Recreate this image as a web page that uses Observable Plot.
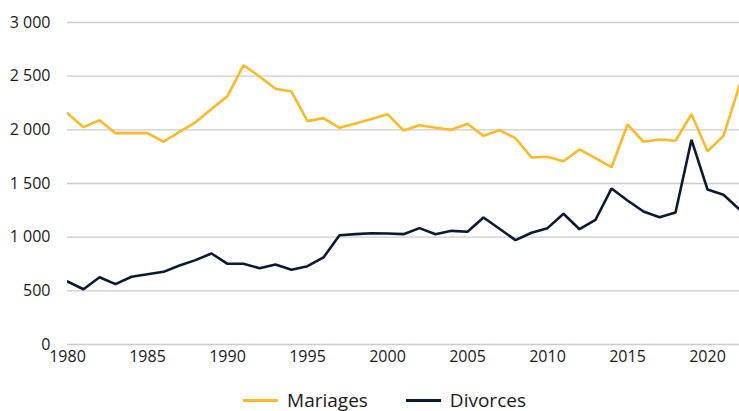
<!DOCTYPE html>
<html>
<head>
<meta charset="utf-8">
<script src="https://cdn.jsdelivr.net/npm/d3@7"></script>
<script src="https://cdn.jsdelivr.net/npm/@observablehq/plot@0.6"></script>
<style>
  body { margin: 0; background: #fff; font-family: "Open Sans", sans-serif; }
  #chart svg { display: block; }
  .legend { display: flex; justify-content: center; gap: 38px; margin-top: 17px; padding-left: 30px; font-size: 19px; color: #1a1a1a; }
  .item { display: flex; align-items: center; gap: 9px; }
  .sw { width: 35px; height: 3px; display: inline-block; }
</style>
</head>
<body>
<div id="chart"></div>
<div class="legend">
  <span class="item"><span class="sw" style="background:#FBBA26"></span>Mariages</span>
  <span class="item"><span class="sw" style="background:#0A1A33"></span>Divorces</span>
</div>
<script>
const years = d3.range(1980, 2023);
const mariages = [2155, 2025, 2090, 1969, 1969, 1969, 1889, 1980, 2070, 2195, 2314, 2602, 2497, 2382, 2357, 2081, 2109, 2019, 2060, 2100, 2146, 1994, 2043, 2020, 2000, 2056, 1944, 1997, 1922, 1742, 1749, 1708, 1817, 1736, 1652, 2050, 1889, 1910, 1898, 2146, 1801, 1944, 2413];
const divorces = [587, 515, 627, 562, 631, 655, 677, 736, 786, 848, 752, 752, 711, 745, 696, 730, 811, 1018, 1028, 1037, 1034, 1028, 1084, 1028, 1059, 1050, 1183, 1078, 972, 1041, 1084, 1218, 1074, 1162, 1453, 1342, 1239, 1186, 1230, 1907, 1444, 1395, 1258];
const xTicks = [1980, 1985, 1990, 1995, 2000, 2005, 2010, 2015, 2020];
const yTicks = [0, 500, 1000, 1500, 2000, 2500, 3000];
const series = ["Mariages", "Divorces"];
const colors = ["#FBBA26", "#0A1A33"];

const data = [];
years.forEach((y, i) => {
  data.push({year: y, value: mariages[i], serie: series[0]});
  data.push({year: y, value: divorces[i], serie: series[1]});
});
const fr = d3.formatLocale({decimal: ",", thousands: " ", grouping: [3], currency: ["", " €"]});
const fmt = fr.format(",d");

const chart = Plot.plot({
  width: 739,
  height: 370,
  marginLeft: 67,
  marginRight: 0,
  marginTop: 22,
  marginBottom: 26,
  style: {fontFamily: "Open Sans", fontSize: "16px", color: "#1a1a1a", background: "#fff"},
  x: {domain: [1980, 2022], ticks: xTicks, tickFormat: d => String(d), label: null, tickSize: 0, tickPadding: 6},
  y: {domain: [0, 3000], ticks: yTicks, tickFormat: fmt, label: null, tickSize: 0, tickPadding: 17},
  color: {domain: series, range: colors},
  marks: [
    Plot.ruleY(yTicks, {stroke: "#cccccc", strokeWidth: 1.3}),
    Plot.line(data, {x: "year", y: "value", z: "serie", stroke: "serie", strokeWidth: 2.6, strokeLinejoin: "miter", clip: true})
  ]
});
document.getElementById("chart").appendChild(chart);
</script>
</body>
</html>
